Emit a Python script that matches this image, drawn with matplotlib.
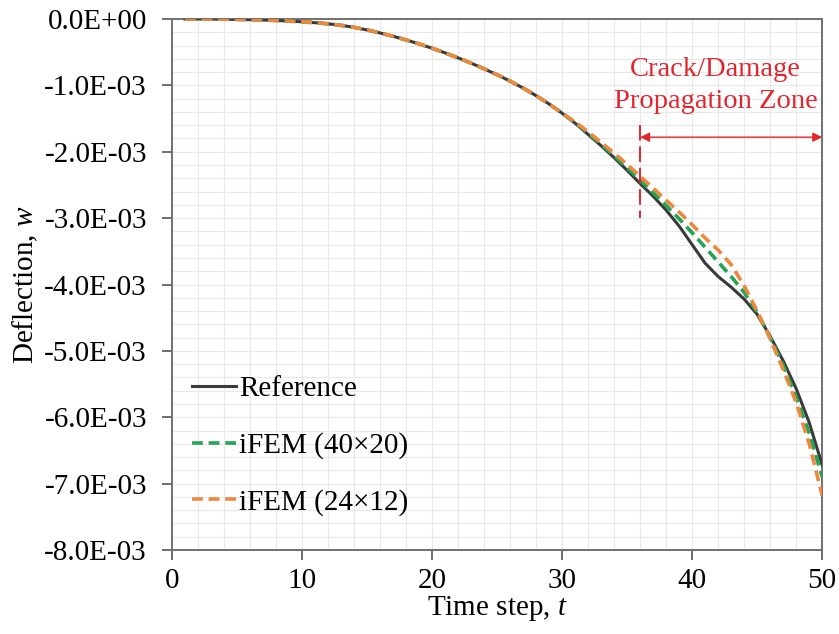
import numpy as np
import matplotlib
matplotlib.use("Agg")
import matplotlib.pyplot as plt
from matplotlib.ticker import MultipleLocator, FuncFormatter

plt.rcParams['font.family'] = ['Liberation Serif', 'DejaVu Serif']
plt.rcParams['mathtext.fontset'] = 'custom'
plt.rcParams['mathtext.rm'] = 'Liberation Serif'
plt.rcParams['mathtext.it'] = 'Liberation Serif:italic'

# time steps
t = np.arange(1, 51)

# deflection values (x 1e-3)
w_common = [0.0, 0.0, 0.001, 0.003, 0.006, 0.01, 0.015, 0.022, 0.031, 0.042,
            0.055, 0.072, 0.095, 0.125, 0.165, 0.21, 0.26, 0.315, 0.375, 0.44,
            0.51, 0.585, 0.665, 0.75, 0.84, 0.935, 1.04, 1.155, 1.28, 1.42]
w_ref = w_common + [1.57, 1.74, 1.91, 2.09, 2.28, 2.48, 2.67, 2.88, 3.12, 3.40,
                    3.68, 3.88, 4.04, 4.22, 4.45, 4.78, 5.15, 5.57, 6.08, 6.72]
w_40x20 = w_common + [1.56, 1.72, 1.89, 2.06, 2.24, 2.43, 2.62, 2.81, 3.01, 3.22,
                      3.44, 3.66, 3.88, 4.12, 4.42, 4.80, 5.22, 5.70, 6.24, 6.90]
w_24x12 = w_common + [1.55, 1.70, 1.86, 2.02, 2.19, 2.37, 2.55, 2.73, 2.91, 3.10,
                      3.30, 3.48, 3.70, 4.02, 4.40, 4.82, 5.28, 5.78, 6.40, 7.18]

w_ref = -np.array(w_ref) * 1e-3
w_40x20 = -np.array(w_40x20) * 1e-3
w_24x12 = -np.array(w_24x12) * 1e-3

crack_start = 36
zone_level = -1.78e-3

fig = plt.figure(figsize=(8.39, 6.34), dpi=100)
ax = fig.add_axes([0.205, 0.1325, 0.775, 0.8375])

ax.plot(t, w_ref, color='#3a3a3a', lw=2.2, label='Reference', zorder=3)
ax.plot(t, w_40x20, color='#22a554', lw=2.6, ls=(0, (3, 1.6)), label='iFEM (40×20)', zorder=4)
ax.plot(t, w_24x12, color='#ee883e', lw=2.6, ls=(0, (3, 1.6)), label='iFEM (24×12)', zorder=5)

ax.set_xlim(0, 50)
ax.set_ylim(-8e-3, 0)
ax.xaxis.set_major_locator(MultipleLocator(10))
ax.xaxis.set_minor_locator(MultipleLocator(2))
ax.yaxis.set_major_locator(MultipleLocator(1e-3))
ax.yaxis.set_minor_locator(MultipleLocator(0.2e-3))
ax.yaxis.set_major_formatter(FuncFormatter(lambda v, p: f"{v:.1E}" if abs(v) > 1e-12 else "0.0E+00"))
ax.grid(which='both', color='#e8e8e8', lw=0.8, zorder=0)
ax.set_axisbelow(True)
ax.tick_params(which='major', direction='out', length=7, width=1.2, color='#555555', labelsize=21)
ax.tick_params(axis='y', which='major', pad=11)
ax.tick_params(axis='x', which='major', pad=6)
ax.tick_params(which='minor', length=0)
for s in ax.spines.values():
    s.set_color('#707070')
    s.set_linewidth(1.4)

ax.set_xlabel('Time step, $t$', fontsize=21, labelpad=0)
ax.set_ylabel('Deflection, $w$', fontsize=21, labelpad=3)

# crack zone annotation
red = '#e0262e'
ax.plot([crack_start, crack_start], [-1.6e-3, -3.0e-3], color=red, lw=1.4, ls=(0, (8, 3)), zorder=6)
ax.annotate('', xy=(50, zone_level), xytext=(crack_start, zone_level),
            arrowprops=dict(arrowstyle='<|-|>', color=red, lw=1.0, mutation_scale=14,
                            shrinkA=0, shrinkB=0), zorder=6)
ax.text(41.8, -1.0e-3, 'Crack/Damage\nPropagation Zone', color=red, fontsize=20.5,
        ha='center', va='center', linespacing=1.4)

ax.legend(loc='lower left', bbox_to_anchor=(0.0, 0.026), frameon=False, fontsize=21,
          handlelength=1.5, handletextpad=0.1, labelspacing=1.02, borderaxespad=0.3)

fig.savefig('out.png', dpi=100)
